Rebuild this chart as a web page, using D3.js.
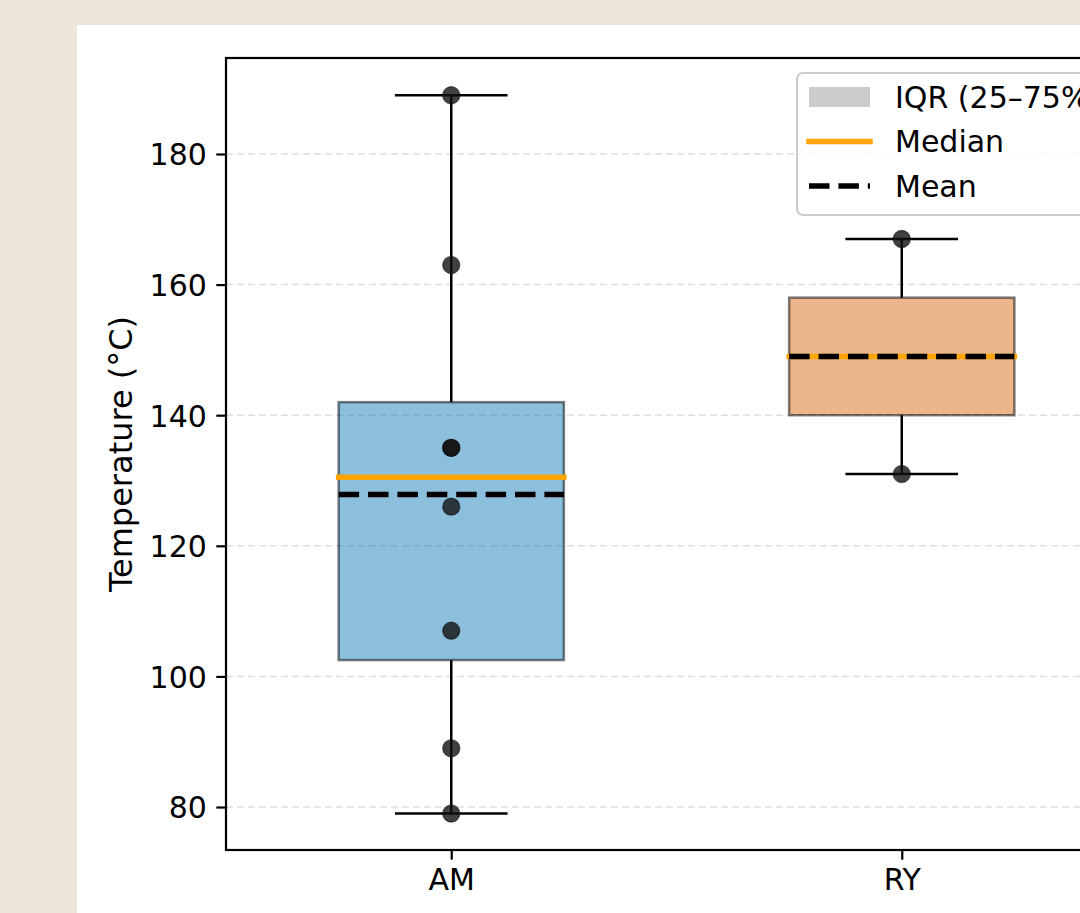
<!DOCTYPE html>
<html>
<head>
<meta charset="utf-8">
<script src="https://cdn.jsdelivr.net/npm/d3@7"></script>
<style>
  html, body { margin: 0; padding: 0; overflow: hidden; background: #ede6da; }
  svg { display: block; }
  text { font-family: "DejaVu Sans", sans-serif; fill: #000; }
</style>
</head>
<body>
<script>
// ---- data ----
const categories = ["AM", "RY"];
const amValues = [79, 89, 107, 126, 135, 135, 163, 189];
const ryValues = [131, 167];
const seriesValues = [amValues, ryValues];
const boxColors = ["#0072b2", "#d55e00"];
const yTicks = [80, 100, 120, 140, 160, 180];
const legendLabels = ["IQR (25–75%)", "Median", "Mean"];
const yLabel = "Temperature (°C)";

// ---- layout ----
const W = 1200, H = 913;
const plot = { left: 226, top: 58, right: 1127, bottom: 850 };

const svg = d3.select("body").append("svg").attr("width", W).attr("height", H);

// white figure panel
svg.append("rect").attr("x", 77).attr("y", 25).attr("width", W).attr("height", H).attr("fill", "#fff");

const x = d3.scaleLinear().domain([0.5, categories.length + 0.5]).range([plot.left, plot.right]);
const y = d3.scaleLinear().domain([73.42, 194.7]).range([plot.bottom, plot.top]);

// grid
svg.append("g").selectAll("line").data(yTicks).join("line")
  .attr("x1", plot.left).attr("x2", plot.right)
  .attr("y1", d => y(d)).attr("y2", d => y(d))
  .attr("stroke", "#d9d9d9").attr("stroke-width", 1.5).attr("stroke-dasharray", "7,4").attr("opacity", 0.8);

// stats
const stats = seriesValues.map((vals, i) => {
  const s = vals.slice().sort(d3.ascending);
  const q1 = d3.quantile(s, 0.25), q3 = d3.quantile(s, 0.75), med = d3.quantile(s, 0.5);
  const iqr = q3 - q1;
  const lo = d3.min(s.filter(v => v >= q1 - 1.5 * iqr));
  const hi = d3.max(s.filter(v => v <= q3 + 1.5 * iqr));
  return { i, pos: i + 1, q1, q3, med, mean: d3.mean(s), lo, hi, vals: s, color: boxColors[i] };
});

const boxHalf = 0.25, capHalf = 0.125;
const g = svg.append("g");
const lw = 2.5;

// whiskers
stats.forEach(s => {
  const cx = x(s.pos);
  g.append("line").attr("x1", cx).attr("x2", cx).attr("y1", y(s.q3)).attr("y2", y(s.hi))
    .attr("stroke", "#000").attr("stroke-width", lw);
  g.append("line").attr("x1", cx).attr("x2", cx).attr("y1", y(s.q1)).attr("y2", y(s.lo))
    .attr("stroke", "#000").attr("stroke-width", lw);
  [s.lo, s.hi].forEach(v => {
    g.append("line").attr("x1", x(s.pos - capHalf)).attr("x2", x(s.pos + capHalf))
      .attr("y1", y(v)).attr("y2", y(v)).attr("stroke", "#000").attr("stroke-width", lw);
  });
});

// boxes
g.selectAll("rect.box").data(stats).join("rect").attr("class", "box")
  .attr("x", d => x(d.pos - boxHalf)).attr("width", d => x(d.pos + boxHalf) - x(d.pos - boxHalf))
  .attr("y", d => y(d.q3)).attr("height", d => y(d.q1) - y(d.q3))
  .attr("fill", d => d.color).attr("fill-opacity", 0.45)
  .attr("stroke", "#000").attr("stroke-opacity", 0.5).attr("stroke-width", lw);

// medians
g.selectAll("line.med").data(stats).join("line").attr("class", "med")
  .attr("x1", d => x(d.pos - boxHalf)).attr("x2", d => x(d.pos + boxHalf))
  .attr("y1", d => y(d.med)).attr("y2", d => y(d.med))
  .attr("stroke", "#ffa500").attr("stroke-width", 5.5).attr("stroke-linecap", "square");

// means
g.selectAll("line.mean").data(stats).join("line").attr("class", "mean")
  .attr("x1", d => x(d.pos - boxHalf)).attr("x2", d => x(d.pos + boxHalf))
  .attr("y1", d => y(d.mean)).attr("y2", d => y(d.mean))
  .attr("stroke", "#000").attr("stroke-width", 5.5).attr("stroke-dasharray", "20.5,8.9");

// points
stats.forEach(s => {
  g.selectAll(null).data(s.vals).join("circle")
    .attr("cx", x(s.pos)).attr("cy", d => y(d)).attr("r", 8.6)
    .attr("fill", "#111").attr("fill-opacity", 0.8)
    .attr("stroke", "#000").attr("stroke-opacity", 0.5).attr("stroke-width", 1.2);
});

// axes
const yAxis = svg.append("g").attr("transform", `translate(${plot.left},0)`)
  .call(d3.axisLeft(y).tickValues(yTicks).tickSize(9.7).tickPadding(9.5));
const xAxis = svg.append("g").attr("transform", `translate(0,${plot.bottom})`)
  .call(d3.axisBottom(x).tickValues(categories.map((c, i) => i + 1)).tickFormat((d, i) => categories[i]).tickSize(9.7).tickPadding(9));
[yAxis, xAxis].forEach(a => {
  a.select(".domain").remove();
  a.selectAll(".tick line").attr("stroke", "#000").attr("stroke-width", 2.2);
  a.selectAll(".tick text").attr("font-size", 30).attr("font-family", "DejaVu Sans").attr("fill", "#000");
});
yAxis.selectAll(".tick text").attr("dy", "0.36em");

// frame
svg.append("rect").attr("x", plot.left).attr("y", plot.top)
  .attr("width", plot.right - plot.left).attr("height", plot.bottom - plot.top)
  .attr("fill", "none").attr("stroke", "#000").attr("stroke-width", 2.2);

// y label
svg.append("text").attr("transform", `translate(132,${(plot.top + plot.bottom) / 2}) rotate(-90)`)
  .attr("text-anchor", "middle").attr("font-size", 32).text(yLabel);

// legend
const lg = svg.append("g");
lg.append("rect").attr("x", 797).attr("y", 73).attr("width", 318).attr("height", 142).attr("rx", 6)
  .attr("fill", "#fff").attr("fill-opacity", 0.8).attr("stroke", "#cccccc").attr("stroke-width", 2);
const rowY = [97, 141.5, 186];
lg.append("rect").attr("x", 809).attr("y", rowY[0] - 10).attr("width", 61).attr("height", 20).attr("fill", "#cccccc");
lg.append("line").attr("x1", 809).attr("x2", 870).attr("y1", rowY[1]).attr("y2", rowY[1])
  .attr("stroke", "#ffa500").attr("stroke-width", 5.5).attr("stroke-linecap", "square");
lg.append("line").attr("x1", 809).attr("x2", 870).attr("y1", rowY[2]).attr("y2", rowY[2])
  .attr("stroke", "#000").attr("stroke-width", 5.5).attr("stroke-dasharray", "20.5,8.9");
lg.selectAll("text").data(legendLabels).join("text")
  .attr("x", 895).attr("y", (d, i) => rowY[i]).attr("dy", "0.36em")
  .attr("font-size", 30).text(d => d);
</script>
</body>
</html>
